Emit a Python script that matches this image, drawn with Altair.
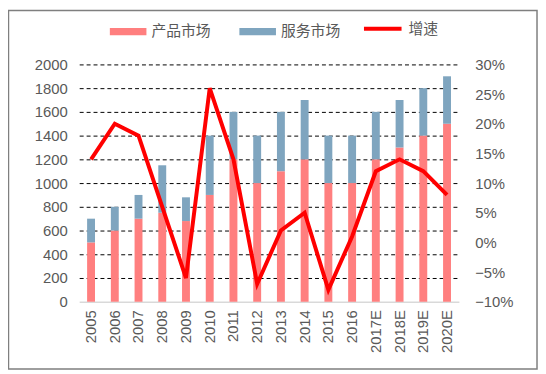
import altair as alt
import pandas as pd

years = ["2005", "2006", "2007", "2008", "2009", "2010", "2011", "2012",
         "2013", "2014", "2015", "2016", "2017E", "2018E", "2019E", "2020E"]
product = [500, 600, 700, 750, 680, 900, 1200, 1000, 1100, 1200, 1000, 1000, 1200, 1300, 1400, 1500]
service = [200, 200, 200, 400, 200, 500, 400, 400, 500, 500, 400, 400, 400, 400, 400, 400]
growth = [14, 20, 18, 6, -6, 26, 14, -7, 2, 5, -8, 1, 12, 14, 12, 8]

series_names = ["产品市场", "服务市场"]
bar_colors = ["#FF7F7F", "#7FA5BF"]
line_name = "增速"
line_color = "#FF0000"

rows = []
for i, y in enumerate(years):
    rows.append({"year": y, "series": series_names[0], "value": product[i], "ord": 0})
    rows.append({"year": y, "series": series_names[1], "value": service[i], "ord": 1})
bars_df = pd.DataFrame(rows)
line_df = pd.DataFrame({"year": years, "growth": [g / 100 for g in growth], "series": line_name})

label_color = "#595959"
font = "Liberation Sans"
cjk = "Noto Sans CJK SC"

xenc = alt.X("year:N", sort=years, title=None,
             scale=alt.Scale(paddingInner=0, paddingOuter=0),
             axis=alt.Axis(labelAngle=270, labelFont=font, labelFontSize=15,
                           labelColor=label_color, labelPadding=8, ticks=False,
                           domainColor="#D9D9D9", domainWidth=1.5))

bars = alt.Chart(bars_df).mark_bar(size=8).encode(
    x=xenc,
    y=alt.Y("value:Q", stack="zero", title=None,
            scale=alt.Scale(domain=[0, 2000], nice=False),
            axis=alt.Axis(orient="left", values=list(range(0, 2001, 200)), format="d",
                          labelFont=font, labelFontSize=15, labelColor=label_color,
                          labelPadding=12, ticks=False, domain=False,
                          grid=True, gridColor="#000000", gridDash=[4, 3], gridWidth=1,
                          gridOpacity={"condition": {"test": "datum.value == 0", "value": 0}, "value": 1})),
    color=alt.Color("series:N", title=None,
                    scale=alt.Scale(domain=series_names, range=bar_colors),
                    legend=alt.Legend(orient="none", legendX=31, legendY=-52, direction="horizontal",
                                      symbolType="M-1,-0.2H1V0.2H-1Z", symbolSize=1369,
                                      symbolStrokeWidth=0, labelFont=cjk, labelFontSize=15,
                                      labelColor=label_color, labelOffset=5, columnPadding=28)),
    order=alt.Order("ord:Q"),
)

line = alt.Chart(line_df).mark_line(strokeWidth=4, strokeJoin="miter").encode(
    x=alt.X("year:N", sort=years),
    y=alt.Y("growth:Q", title=None,
            scale=alt.Scale(domain=[-0.1, 0.3], nice=False),
            axis=alt.Axis(orient="right", values=[-0.1, -0.05, 0, 0.05, 0.1, 0.15, 0.2, 0.25, 0.3],
                          format=".0%", labelFont=font, labelFontSize=15, labelColor=label_color,
                          labelPadding=16, ticks=False, domain=False, grid=False)),
    stroke=alt.Stroke("series:N", title=None,
                      scale=alt.Scale(domain=[line_name], range=[line_color]),
                      legend=alt.Legend(orient="none", legendX=286, legendY=-57,
                                        symbolType="stroke", symbolSize=1444, symbolStrokeWidth=4,
                                        labelFont=cjk, labelFontSize=15, labelColor=label_color,
                                        labelOffset=5)),
)

border = alt.Chart(alt.Data(values=[{"a": 1}])).mark_rect(
    fill=None, fillOpacity=0, stroke="#7F7F7F", strokeWidth=1.5
).encode(
    x=alt.value(-71.5), x2=alt.value(463), y=alt.value(-54.5), y2=alt.value(308)
)

chart = alt.layer(bars, line, border).resolve_scale(
    y="independent", color="independent"
).properties(
    width=384, height=240,
    autosize=alt.AutoSizeParams(type="none"),
    padding={"left": 72, "top": 55, "right": 80, "bottom": 69},
).configure_view(stroke=None)

chart.save("out.html", embed_options={"renderer": "svg", "actions": False})
